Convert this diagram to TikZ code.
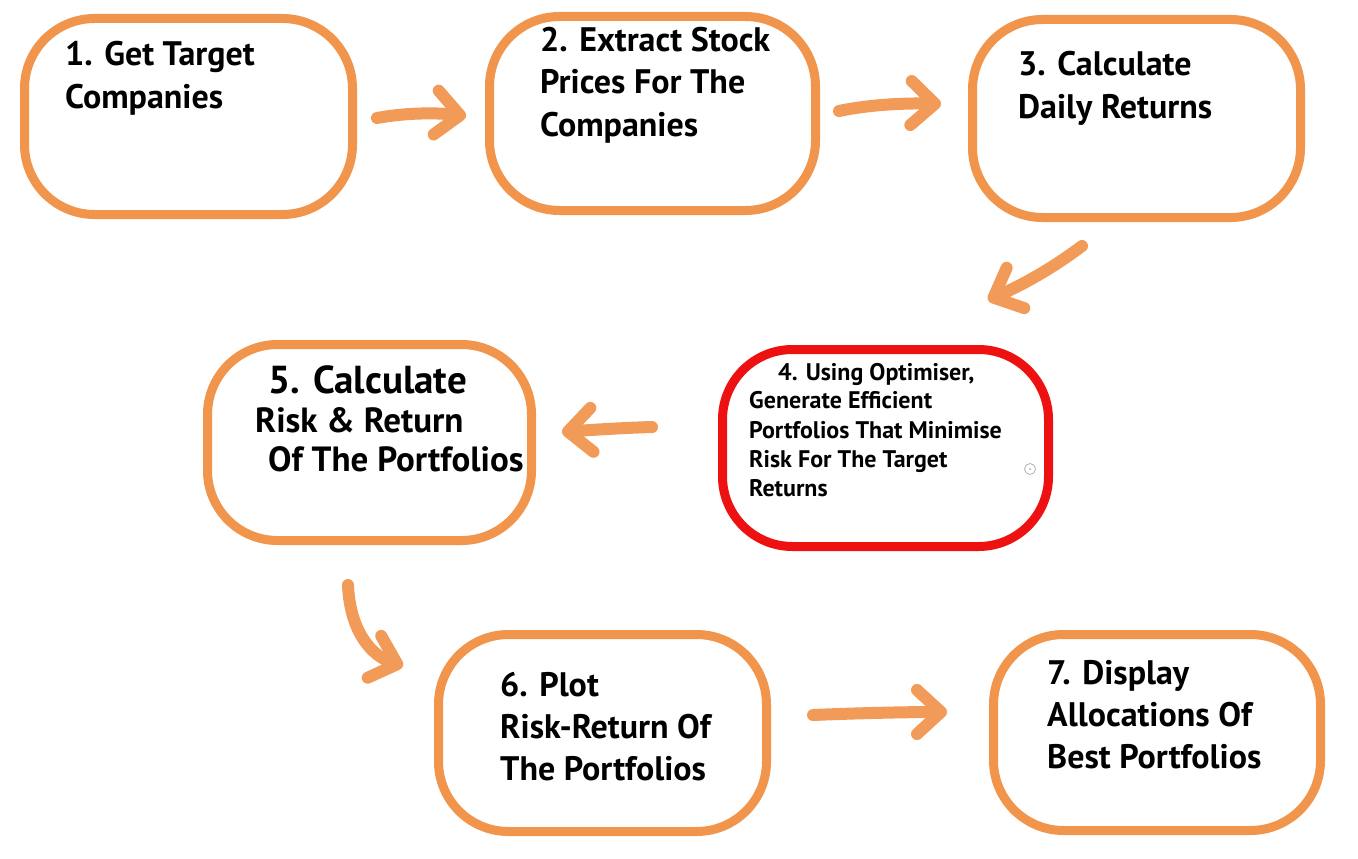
\documentclass[tikz,border=0pt]{standalone}
\usepackage{fontspec}
\setmainfont{PT Sans}
\usetikzlibrary{arrows.meta}
\definecolor{boxorange}{HTML}{F0954B}
\definecolor{arroworange}{HTML}{F29A58}
\definecolor{boxred}{HTML}{EE1111}
\begin{document}
\begin{tikzpicture}[x=1pt,y=-1pt,
  stagebox/.style={draw=boxorange, line width=9pt, rounded corners=70pt, minimum width=328pt, minimum height=196pt, inner sep=0pt, fill=white},
  redbox/.style={stagebox, draw=boxred},
  big/.style={anchor=base west, inner sep=0pt, font=\bfseries\fontsize{34}{40}\selectfont},
  bigger/.style={big, font=\bfseries\fontsize{39}{44}\selectfont},
  mid/.style={big, font=\bfseries\fontsize{35}{40}\selectfont},
  small/.style={anchor=base west, inner sep=0pt, font=\bfseries\fontsize{24}{29}\selectfont},
  flow/.style={draw=arroworange, line width=12pt, line cap=round, -{Straight Barb[length=24pt,width=44pt,round]}}
]
\useasboundingbox (0,0) rectangle (1358,859);
\fill[white] (0,0) rectangle (1358,859);

% boxes
\node[stagebox] (b1) at (188.5,116.5) {};
\node[stagebox, minimum width=326pt, minimum height=194pt] (b2) at (652.5,113.5) {};
\node[stagebox, minimum height=198pt] (b3) at (1136.5,118.5) {};
\node[redbox, minimum width=326pt, minimum height=197pt] (b4) at (885.5,448) {};
\node[stagebox, minimum width=324pt] (b5) at (369.5,442.5) {};
\node[stagebox, minimum height=197pt] (b6) at (602.5,733) {};
\node[stagebox, minimum width=327pt] (b7) at (1157,732.5) {};

% texts
\node[big] (t1a) at (65,66) {1. Get Target};
\node[big] (t1b) at (65,108) {Companies};

\node[big] (t2a) at (540,52) {2. Extract Stock};
\node[big] (t2b) at (540,94) {Prices For The};
\node[big] (t2c) at (540,136) {Companies};

\node[big] (t3a) at (1018,76) {3. Calculate};
\node[big] (t3b) at (1018,118) {Daily Returns};

\node[small] (t4a) at (778,380) {4. Using Optimiser,};
\node[small] (t4b) at (749,408) {Generate Efficient};
\node[small] (t4c) at (749,438) {Portfolios That Minimise};
\node[small] (t4d) at (749,467) {Risk For The Target};
\node[small] (t4e) at (749,496) {Returns};

\node[bigger] (t5a) at (268,393) {5. Calculate};
\node[mid] (t5b) at (255,432) {Risk \& Return};
\node[mid] (t5c) at (268,471) {Of The Portfolios};

\node[big] (t6a) at (500,696) {6. Plot};
\node[big] (t6b) at (500,738) {Risk-Return Of};
\node[big] (t6c) at (500,780) {The Portfolios};

\node[big] (t7a) at (1047,684) {7. Display};
\node[big] (t7b) at (1047,726) {Allocations Of};
\node[big] (t7c) at (1047,768) {Best Portfolios};

% small mark
\node[draw=gray!60, line width=0.8pt, circle, minimum size=11pt, inner sep=0pt] (dot) at (1030,469) {};
\fill[gray!70] (dot.center) circle (1pt);

% arrow end points
\coordinate (a1s) at (377,118); \coordinate (a1e) at (466,116);
\coordinate (a2s) at (839,111); \coordinate (a2e) at (941,104);
\coordinate (a3s) at (1082,246); \coordinate (a3e) at (988,300);
\coordinate (a4s) at (652,427); \coordinate (a4e) at (562,432);
\coordinate (a5s) at (348,585); \coordinate (a5e) at (403,666);
\coordinate (a6s) at (813,715); \coordinate (a6e) at (947,712);

\draw[flow] (a1s) .. controls (410,112) and (440,113) .. (a1e);
\draw[flow] (a2s) .. controls (872,104) and (910,103) .. (a2e);
\draw[flow] (a3s) .. controls (1050,270) and (1020,286) .. (a3e);
\draw[flow] (a4s) .. controls (620,428) and (590,430) .. (a4e);
\draw[flow] (a5s) .. controls (350,632) and (372,656) .. (a5e);
\draw[flow] (a6s) .. controls (860,713) and (910,712) .. (a6e);
\end{tikzpicture}
\end{document}
